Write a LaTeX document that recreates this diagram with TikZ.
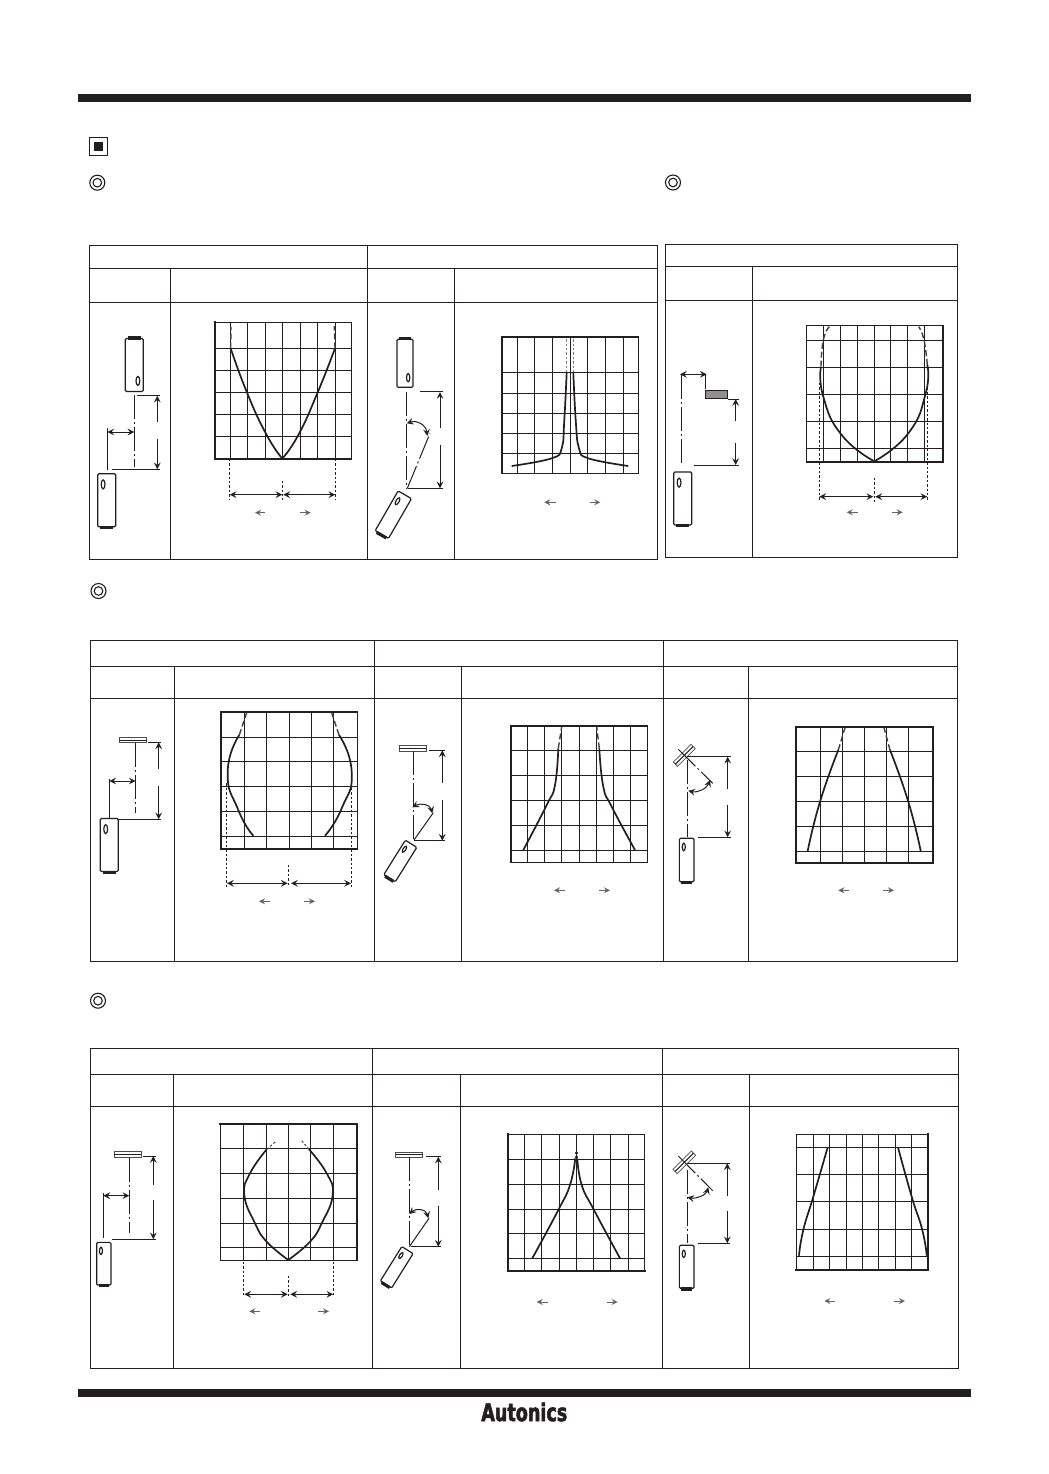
\documentclass[tikz,border=0pt]{standalone}
\usepackage{fontspec}
\newfontfamily\logofont{DejaVu Sans}[BoldFeatures={FakeStretch=.72,FakeBold=2.2}]
\definecolor{ink}{HTML}{231F20}
\tikzset{
  >=stealth,
  tableline/.style={ink,line width=.6pt},
  gridline/.style={ink,line width=.55pt},
  gridthick/.style={ink,line width=1.1pt,line cap=rect},
  curveline/.style={ink,line width=.85pt,line join=round},
  dashcurve/.style={ink!85,line width=.7pt,dash pattern=on 3pt off 1.5pt},
  dotline/.style={ink,line width=.5pt,dash pattern=on 1.2pt off 1pt},
  dimline/.style={ink,line width=.5pt},
  axisline/.style={ink,line width=.5pt,dash pattern=on 12pt off 1.5pt on 1pt off 1.5pt},
  sidearrow/.style={ink!70,line width=.35pt,->},
  bodyline/.style={ink,line width=.6pt,rounded corners=.6pt}
}
% body of a sensor: centre x, centre y, angle, width, height
\newcommand{\sensorbody}[5]{
  \begin{scope}[shift={(#1,#2)},rotate=#3]
    \draw[bodyline,fill=white] (-#4/2,-#5/2) rectangle (#4/2,#5/2);
    \fill[ink] (-#4*.36,-#5/2-2.2) rectangle (#4*.36,-#5/2+1);
    \draw[ink,line width=.6pt] (#4*.2,#5*.3) ellipse [x radius=#4*.105,y radius=#5*.085];
  \end{scope}
}
% reflector plate: centre x, centre y, angle, length, width
\newcommand{\targetbar}[5]{
  \begin{scope}[shift={(#1,#2)},rotate=#3]
    \draw[ink!80,line width=.4pt] (-#4/2,-#5/2) rectangle (#4/2,#5/2);
    \draw[ink,line width=.5pt] (-#4/2,0)--(#4/2,0);
  \end{scope}
}
% grid: left, top, right, bottom, x lines, y lines
\newcommand{\plotgrid}[6]{
  \draw[gridline] (#1,#2) rectangle (#3,#4);
  \foreach \x in {#5} \draw[gridline] (\x,#2)--(\x,#4);
  \foreach \y in {#6} \draw[gridline] (#1,\y)--(#3,\y);
}
% measure with a gap: x, top, gap top, gap bottom, bottom
\newcommand{\gapdim}[5]{
  \draw[dimline,<-] (#1,#2)--(#1,#3);
  \draw[dimline,->] (#1,#4)--(#1,#5);
}
% the two small arrows: y, then x of each end
\newcommand{\sidearrows}[5]{
  \draw[sidearrow] (#3,#1)--(#2,#1);
  \draw[sidearrow] (#4,#1)--(#5,#1);
}
\begin{document}
\begin{tikzpicture}[x=.5pt,y=-.5pt]
  \useasboundingbox (0,0) rectangle (1049,1474);
  \fill[white] (0,0) rectangle (1049,1474);
  % bars and logo
  \fill[ink] (78,94) rectangle (971,102);
  \fill[ink] (78,1389) rectangle (971,1397);
  \node[inner sep=0pt,ink] (logo) at (524.3,1412) {\logofont\bfseries\fontsize{12.2}{12.2}\selectfont Autonics};
  % heading marks
  \draw[ink,line width=.5pt] (89.3,137.7) rectangle (107.7,155.7);
  \fill[ink] (94.3,142) rectangle (103.3,151);
  \foreach \x/\y in {97.3/182.7,673/182.5,98.5/591,98/1000.7}{
    \draw[ink,line width=.55pt] (\x,\y) circle (7.5);
    \draw[ink,line width=.55pt] (\x,\y) circle (4.3);
  }
  % table one
  \draw[tableline] (89.3,245.3) rectangle (657.3,559.3);
  \draw[tableline] (89.3,268.3)--(657.3,268.3) (89.3,302.3)--(657.3,302.3);
  \foreach \x in {170.3,454.3} \draw[tableline] (\x,268.3)--(\x,559.3);
  \draw[tableline] (367.3,245.3)--(367.3,559.3);
  % table two
  \draw[tableline] (665.7,244.3) rectangle (957.3,557.4);
  \draw[tableline] (665.7,266.6)--(957.3,266.6) (665.7,300.4)--(957.3,300.4);
  \draw[tableline] (752.3,266.6)--(752.3,557.4);
  % table three
  \draw[tableline] (90.3,640.4) rectangle (957.3,961.4);
  \draw[tableline] (90.3,666.4)--(957.3,666.4) (90.3,698.4)--(957.3,698.4);
  \foreach \x in {174.3,461.3,748.3} \draw[tableline] (\x,666.4)--(\x,961.4);
  \foreach \x in {374.3,663.4} \draw[tableline] (\x,640.4)--(\x,961.4);
  % table four
  \draw[tableline] (90.3,1048.4) rectangle (958.3,1368.4);
  \draw[tableline] (90.3,1074.4)--(958.3,1074.4) (90.3,1106.4)--(958.3,1106.4);
  \foreach \x in {173.3,460.3,749.3} \draw[tableline] (\x,1074.4)--(\x,1368.4);
  \foreach \x in {372.4,662.4} \draw[tableline] (\x,1048.4)--(\x,1368.4);

  % lateral, top left
  \sensorbody{134.3}{365}{0}{18}{53}
  \sensorbody{106.7}{500.3}{180}{18}{53}
  \draw[axisline] (134.3,395.3)--(134.3,466.7);
  \draw[dimline] (136.7,395.3)--(160,395.3) (111.7,469.3)--(160,469.3);
  \draw[dimline] (107.3,428)--(107.3,470);
  \draw[dimline,<->] (107.3,432)--(134.3,432);
  \gapdim{157.3}{395.7}{421.7}{439}{469.3}
  \plotgrid{214.7}{322.3}{351.3}{459}{230.4,247.3,265.3,282.3,300.3,317.3,335.3}{348.3,370.3,392.3,414.3,436.3}
  \draw[gridthick] (214.7,322.3)--(214.7,459)--(351.3,459);
  \draw[curveline] plot[smooth,tension=.9] coordinates {(282.3,458.5)(266.7,435)(247.3,393.3)(230.7,348.3)};
  \draw[curveline] plot[smooth,tension=.9] coordinates {(282.3,458.5)(298.3,435)(317.3,393.3)(335,348.3)};
  \draw[dashcurve] (230.7,348.3)--(231,327) (335,348.3)--(334.3,326);
  \draw[dotline] (229.7,459)--(229.7,500) (335.3,459)--(335.3,500) (282.3,480.7)--(282.3,500);
  \draw[dimline,<->] (229.7,494.7)--(282.3,494.7);
  \draw[dimline,<->] (283.3,494.7)--(335.3,494.7);
  \sidearrows{512.7}{255}{265}{300}{310.7}

  % angle, top middle
  \sensorbody{405}{363.3}{0}{16}{48}
  \sensorbody{393.3}{514.7}{150}{15.4}{46}
  \draw[axisline] (406.7,391.7)--(406.7,488.3);
  \draw[axisline] (407.3,488.3)--(430,433.3);
  \draw[dimline] (420,391.7)--(443.3,391.7) (408.3,488.3)--(443.3,488.3);
  \gapdim{440}{392}{428.3}{445}{488.3}
  \draw[dimline,<->] (406.7,423.3) .. controls (417,420) and (426,425) .. (427.3,436);
  \plotgrid{502}{337}{638.3}{473.3}{517.7,534.3,552.3,570.7,587.7,605.7,623.7}{372.3,393.3,413.3,433.3,453.7}
  \draw[gridthick] (502,473.3)--(502,337)--(638.3,337);
  \draw[curveline] plot[smooth,tension=.7] coordinates {(511.7,466)(551.7,458.3)(561.7,448.3)(564.3,420)(566.7,372.3)};
  \draw[curveline] plot[smooth,tension=.7] coordinates {(628.3,466)(588.3,458.3)(579,448.3)(575.7,420)(573.3,372.3)};
  \draw[dotline,ink!60] (566.3,372.3)--(566.3,338) (573.3,372.3)--(573.3,338);
  \sidearrows{502.3}{544.3}{555.7}{589.7}{600.3}

  % lateral, top right
  \sensorbody{682.7}{498.5}{180}{18}{53}
  \draw[ink,fill=ink!50,line width=.5pt] (705.3,390.3) rectangle (727.7,398.7);
  \draw[axisline] (681.7,375)--(681.7,465);
  \draw[dimline] (705.3,375)--(705.3,389) (728,399)--(739,399) (694,465)--(739,465);
  \draw[dimline,<->] (680,374.3)--(706.7,374.3);
  \gapdim{735.7}{399}{420.7}{443.3}{465}
  \plotgrid{806.7}{325.7}{943.3}{462}{823.3,840.3,857.3,874.3,890.7,907.3,924.7}{340.3,367.3,394.3,421.3,448.7}
  \draw[gridthick] (806.7,462)--(943.3,462)--(943.3,325.7);
  \draw[curveline] plot[smooth,tension=.9] coordinates {(874.3,461.3)(841.7,435)(823.3,396.7)(821,366.7)};
  \draw[curveline] plot[smooth,tension=.9] coordinates {(874.3,461.3)(908.3,433.3)(925.7,393.3)(927.3,365)};
  \draw[dashcurve] plot[smooth,tension=.9] coordinates {(821,366.7)(823.3,340)(829.3,326.7)};
  \draw[dashcurve] plot[smooth,tension=.9] coordinates {(927.3,365)(924,340)(918.7,326.7)};
  \draw[dotline] (819.3,383)--(819.3,501.7) (927.3,383)--(927.3,501.7) (874.3,478)--(874.3,501.7);
  \draw[dimline,<->] (819.3,496.7)--(873.3,496.7);
  \draw[dimline,<->] (875.3,496.7)--(927.3,496.7);
  \sidearrows{512.3}{846.7}{857.7}{892}{902.7}

  % lateral, middle row
  \sensorbody{109.3}{845}{180}{18}{53}
  \targetbar{133}{740}{0}{27.4}{5.4}
  \draw[axisline] (135.7,742.7)--(135.7,813.3);
  \draw[dimline] (148.3,742.3)--(161,742.3) (118.3,819.3)--(161,819.3) (109.3,778.7)--(109.3,818.3);
  \draw[dimline,<->] (109.3,781)--(135.7,781);
  \gapdim{158.7}{742.3}{769.3}{786}{819.3}
  \plotgrid{220.7}{712}{357.3}{849}{244.3,266.7,289.3,311.7,333.7}{737.3,761.3,786.3,811.3,836.3}
  \draw[gridthick] (220.7,849)--(220.7,712)--(357.3,712) (220.7,849)--(357.3,849);
  \draw[curveline] plot[smooth,tension=1] coordinates {(253.3,835.7)(238.3,810)(227.7,772)(239.3,735)};
  \draw[curveline] plot[smooth,tension=1] coordinates {(325,835.7)(341.7,808.3)(351.7,772)(339,735)};
  \draw[dashcurve] (239.3,735)--(246.7,712.7) (339,735)--(331.7,712.7);
  \draw[dotline] (226.3,783.3)--(226.3,886.7) (351.3,783.3)--(351.3,886.7) (288.3,865)--(288.3,886.7);
  \draw[dimline,<->] (227,883.3)--(287.7,883.3);
  \draw[dimline,<->] (291,883.3)--(351,883.3);
  \sidearrows{901.3}{259}{270}{304.3}{315}

  % angle, middle row
  \sensorbody{400.3}{861}{148}{13.5}{40.7}
  \targetbar{412.7}{748.2}{0}{26.7}{5.6}
  \draw[axisline] (413.3,751)--(413.3,840);
  \draw[dimline] (414,840)--(433.3,812.7);
  \draw[dimline] (429.3,750.3)--(445,750.3) (414,840.7)--(445,840.7);
  \gapdim{442.3}{750.3}{783.3}{800}{840.7}
  \draw[dimline,<->] (412.3,807.3) .. controls (420,803) and (430,804) .. (432.3,813.3);
  \plotgrid{510.7}{725.7}{647.3}{862.3}{527.3,544.3,561.3,579.3,596.3,613.3,630.3}{750.3,775.3,800.3,825.3,850.3}
  \draw[gridthick] (510.7,862.3)--(510.7,725.7)--(647.3,725.7);
  \draw[curveline] plot[smooth,tension=.8] coordinates {(523.3,850)(546.7,805)(555,785)(558.3,748.3)};
  \draw[curveline] plot[smooth,tension=.8] coordinates {(635,850)(611.7,806.7)(603.3,786.7)(599.3,748.3)};
  \draw[dashcurve] (558.3,748.3)--(561.7,726.7) (599.3,748.3)--(596.7,726.7);
  \sidearrows{890.3}{554}{565}{599}{610}

  % tilted plate, middle row
  \sensorbody{686.7}{860}{180}{14.7}{43.4}
  \targetbar{684.3}{755.3}{45}{25}{6}
  \draw[axisline] (678.3,749.3)--(712.7,783.3);
  \draw[axisline] (687.3,760)--(687.3,836.7);
  \draw[dimline] (687.3,756.7)--(730.7,756.7) (698,837)--(730.7,837);
  \gapdim{727.7}{756.7}{789.3}{805}{837.3}
  \draw[dimline,<->] (688.3,790.7) .. controls (698,793) and (707,788) .. (710,780);
  \plotgrid{795.7}{726.7}{933.3}{863.3}{820.3,842.3,864.3,886.3,908.3}{751.3,776.3,801.3,826.3,851.3}
  \draw[gridthick] (795.7,863.3) rectangle (933.3,726.7);
  \draw[curveline] plot[smooth,tension=.9] coordinates {(807.7,851)(820,801.7)(838.3,750)};
  \draw[curveline] plot[smooth,tension=.9] coordinates {(920.7,851)(908.3,801.7)(890,750)};
  \draw[dashcurve] (838.3,750)--(845,727.7) (890,750)--(884,727.7);
  \sidearrows{890.3}{838.3}{849}{883.3}{894}

  % lateral, bottom row
  \sensorbody{103.8}{1263.7}{180}{14.3}{42.7}
  \targetbar{127.7}{1154.5}{0}{26.7}{5.6}
  \draw[axisline] (129.3,1157.7)--(129.3,1232.7);
  \draw[dimline] (143.3,1156)--(155.7,1156) (112.3,1239.3)--(155.7,1239.3) (103.3,1193.3)--(103.3,1238.3);
  \draw[dimline,<->] (103.3,1195.7)--(129.3,1195.7);
  \gapdim{153.3}{1156}{1185}{1200}{1239.3}
  \plotgrid{220.3}{1124}{357.3}{1260.3}{243.3,266.7,288.7,310.3,333.3}{1148.7,1173.4,1198.4,1223.4,1247.4}
  \draw[gridthick] (220.3,1124)--(357.3,1124)--(357.3,1260.3);
  \draw[curveline] plot[smooth,tension=.8] coordinates {(288.3,1260)(266.7,1241.7)(255,1223.3)(244.3,1195)(250,1173.3)(266.7,1149.3)};
  \draw[curveline] plot[smooth,tension=.8] coordinates {(288.3,1260)(310,1241.7)(321.7,1223.3)(332.7,1195)(326.7,1173.3)(309,1149.3)};
  \draw[dotline,ink!85] (266.7,1149.3)--(276.7,1140.7) (309,1149.3)--(301.7,1140.7);
  \draw[dotline] (243.3,1261.7)--(243.3,1296.7) (333.3,1261.7)--(333.3,1296.7) (288.3,1276)--(288.3,1296.7);
  \draw[dimline,<->] (244.3,1294.3)--(287.7,1294.3);
  \draw[dimline,<->] (290.3,1294.3)--(333.3,1294.3);
  \sidearrows{1311.3}{249.3}{260}{318.3}{329}

  % angle, bottom row
  \sensorbody{396.7}{1267.3}{148}{13.3}{40.6}
  \targetbar{409}{1154.7}{0}{27}{5.3}
  \draw[axisline] (409.3,1157.3)--(409.3,1246.7);
  \draw[dimline] (409.3,1246.7)--(429,1218.3);
  \draw[dimline] (425.7,1156.7)--(441,1156.7) (410.7,1246)--(441,1246);
  \gapdim{438.3}{1156.7}{1190}{1206}{1246.7}
  \draw[dimline,<->] (409.3,1214) .. controls (416,1208) and (426,1209) .. (428.3,1218.3);
  \plotgrid{507.7}{1134.3}{644.7}{1271}{524.3,541.7,559.3,576.3,593.7,610.7,628.3}{1159.3,1184.3,1209.3,1233.3,1258.3}
  \draw[gridthick] (507.7,1134.3)--(507.7,1271)--(644.7,1271);
  \draw[curveline] plot[smooth,tension=.8] coordinates {(532.3,1258.3)(558.3,1210)(570,1185)(575.3,1158.3)};
  \draw[curveline] plot[smooth,tension=.8] coordinates {(620,1258.3)(594,1210)(581.7,1185)(577.3,1158.3)};
  \draw[dotline,ink!85] (575.3,1158.3)--(575.3,1150.7) (577.3,1158.3)--(577.3,1150.7);
  \sidearrows{1302}{536.7}{547.7}{606.7}{617.7}

  % tilted plate, bottom row
  \sensorbody{686.7}{1266.8}{180}{14.7}{43}
  \targetbar{684.3}{1162.3}{45}{26}{6}
  \draw[axisline] (678.3,1156)--(712.7,1190.7);
  \draw[axisline] (687.3,1170)--(687.3,1243);
  \draw[dimline] (687.3,1163.3)--(730,1163.3) (698.3,1243.3)--(730,1243.3);
  \gapdim{727.3}{1163.3}{1196}{1211}{1243.3}
  \draw[dimline,<->] (687.3,1197.3) .. controls (696,1199) and (706,1195) .. (708.3,1187.3);
  \plotgrid{796.3}{1134.3}{928.3}{1270.3}{813.3,829.3,846.3,862.3,878.3,895.3,911.3}{1147.3,1174.4,1201.3,1229.3,1256.3}
  \draw[gridthick] (796.3,1270.3)--(928.3,1270.3)--(928.3,1134.3);
  \draw[curveline] plot[smooth,tension=.9] coordinates {(799,1255.7)(803.3,1230)(813.3,1196.7)(827.7,1147.3)};
  \draw[curveline] plot[smooth,tension=.9] coordinates {(926.7,1255.7)(922.3,1230)(911.7,1196.7)(898,1147.3)};
  \sidearrows{1301}{824.3}{835}{894}{905}
\end{tikzpicture}
\end{document}
